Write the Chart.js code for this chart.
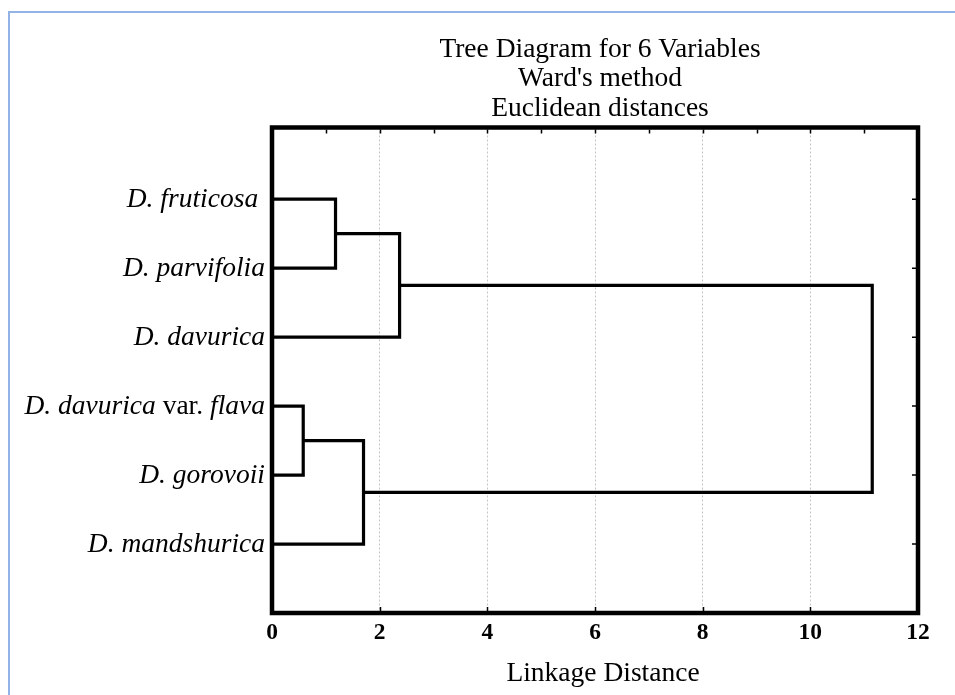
<!DOCTYPE html>
<html><head><meta charset="utf-8">
<script src="https://cdn.jsdelivr.net/npm/chart.js@4.4.1/dist/chart.umd.min.js"></script>
<style>
html,body{margin:0;padding:0;background:#fff;width:955px;height:695px;overflow:hidden}
#frame{position:absolute;left:8px;top:11px;right:0;bottom:0;border-left:2px solid #93b3e7;border-top:2px solid #93b3e7}
#wrap{position:absolute;left:0;top:0;width:955px;height:695px}
</style></head><body>
<div id="frame"></div>
<div id="wrap"><canvas id="c" width="955" height="695"></canvas></div>
<script>
// ---- data ----
const titleLines = ["Tree Diagram for 6 Variables", "Ward's method", "Euclidean distances"];
const xAxisTitle = "Linkage Distance";
const leafLabels = ["D. fruticosa ", "D. parvifolia", "D. davurica", "D. davurica var. flava", "D. gorovoii", "D. mandshurica"];
// merges: node ids 0-5 are leaves, 6+ are clusters in merge order
const mergeLeft = [0, 6, 3, 8, 7];
const mergeRight = [1, 2, 4, 5, 9];
const mergeDistance = [1.18, 2.37, 0.58, 1.70, 11.15];
const xTickValues = [0, 2, 4, 6, 8, 10, 12];
const xMinorTickValues = [1, 2, 3, 4, 5, 6, 7, 8, 9, 10, 11];

// ---- build dendrogram links ----
const nodeY = leafLabels.map((_, i) => i + 1);
const nodeX = leafLabels.map(() => 0);
const datasets = [];
mergeDistance.forEach((d, k) => {
  const a = mergeLeft[k], b = mergeRight[k];
  datasets.push({
    data: [{x: nodeX[a], y: nodeY[a]}, {x: d, y: nodeY[a]}, {x: d, y: nodeY[b]}, {x: nodeX[b], y: nodeY[b]}],
    showLine: true, borderColor: '#000', borderWidth: 3.2, pointRadius: 0, tension: 0, clip: false,
    borderJoinStyle: 'miter', borderCapStyle: 'butt'
  });
  nodeX.push(d);
  nodeY.push((nodeY[a] + nodeY[b]) / 2);
});

const SERIF = "'Liberation Serif', 'Times New Roman', serif";

const decor = {
  id: 'decor',
  afterDraw(chart) {
    const ctx = chart.ctx, ca = chart.chartArea;
    const xs = chart.scales.x, ys = chart.scales.y;
    ctx.save();
    // frame
    ctx.strokeStyle = '#000';
    ctx.lineWidth = 4.5;
    ctx.strokeRect(ca.left, ca.top, ca.right - ca.left, ca.bottom - ca.top);
    // small inward ticks
    ctx.lineWidth = 1.5;
    ctx.beginPath();
    xMinorTickValues.forEach(v => {
      const px = Math.round(xs.getPixelForValue(v)) + 0.5;
      ctx.moveTo(px, ca.top + 2); ctx.lineTo(px, ca.top + 6);
    });
    xTickValues.forEach(v => {
      const px = Math.round(xs.getPixelForValue(v)) + 0.5;
      ctx.moveTo(px, ca.bottom - 2); ctx.lineTo(px, ca.bottom - 6);
    });
    leafLabels.forEach((_, i) => {
      const py = ys.getPixelForValue(i + 1);
      ctx.moveTo(ca.right - 2, py); ctx.lineTo(ca.right - 6, py);
      ctx.moveTo(ca.left + 2, py); ctx.lineTo(ca.left + 6, py);
    });
    ctx.stroke();

    // leaf labels (italic, with roman "var.")
    ctx.fillStyle = '#000';
    ctx.textBaseline = 'alphabetic';
    ctx.textAlign = 'left';
    const italic = 'italic 27.5px ' + SERIF, roman = '27.5px ' + SERIF;
    leafLabels.forEach((lab, i) => {
      const py = ys.getPixelForValue(i + 1) + 8;
      const parts = [];
      const idx = lab.indexOf(' var. ');
      if (idx >= 0) {
        parts.push([lab.slice(0, idx), italic]);
        parts.push([' var. ', roman]);
        parts.push([lab.slice(idx + 6), italic]);
      } else parts.push([lab, italic]);
      let total = 0;
      parts.forEach(p => { ctx.font = p[1]; total += ctx.measureText(p[0]).width; });
      let x = ca.left - 7 - total;
      parts.forEach(p => { ctx.font = p[1]; ctx.fillText(p[0], x, py); x += ctx.measureText(p[0]).width; });
    });

    // titles
    ctx.textAlign = 'center';
    ctx.font = '27.5px ' + SERIF;
    const cx = (ca.left + ca.right) / 2;
    titleLines.forEach((t, i) => ctx.fillText(t, cx + 5, 57 + i * 29.3));
    ctx.fillText(xAxisTitle, cx + 8, 681);
    ctx.restore();
  }
};

new Chart(document.getElementById('c'), {
  type: 'scatter',
  data: { datasets },
  options: {
    responsive: false, animation: false, devicePixelRatio: 1,
    layout: { padding: { left: 272, right: 37, top: 127.5, bottom: 0 } },
    plugins: { legend: { display: false }, tooltip: { enabled: false } },
    scales: {
      x: {
        type: 'linear', min: 0, max: 12,
        afterBuildTicks: s => { s.ticks = xTickValues.map(v => ({ value: v })); },
        afterFit: s => { s.height = 82; },
        ticks: { font: { family: SERIF, size: 23.5, weight: 'bold' }, color: '#000', padding: 6, autoSkip: false, maxRotation: 0 },
        grid: {
          color: c => (c.tick && (c.tick.value === 0 || c.tick.value === 12)) ? 'rgba(0,0,0,0)' : '#c4c4c4',
          lineWidth: 1, drawTicks: false
        },
        border: { display: false, dash: [2, 2] }
      },
      y: { type: 'linear', display: false, min: -0.04, max: 7, reverse: true }
    }
  },
  plugins: [decor]
});
</script>
</body></html>
